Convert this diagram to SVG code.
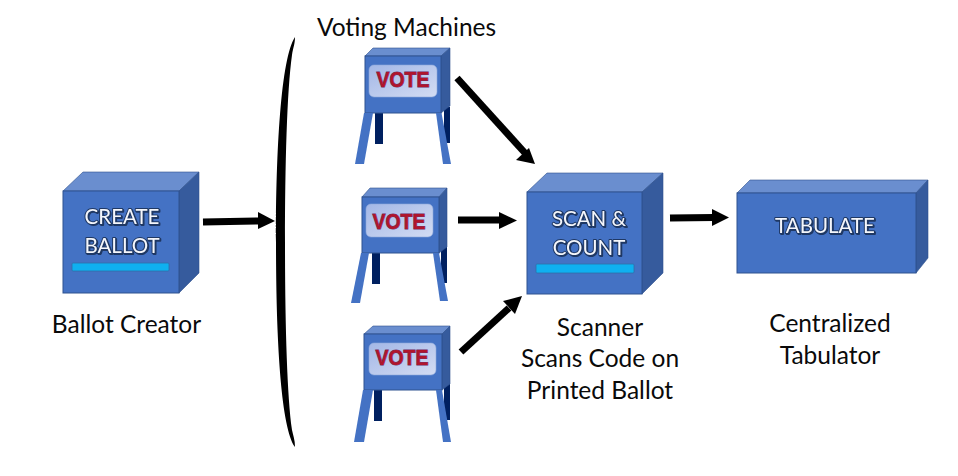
<svg xmlns="http://www.w3.org/2000/svg" width="958" height="476" viewBox="0 0 958 476">
<style>
.front{fill:#4472c4;stroke:#2f528f;stroke-width:1}
.top{fill:#6a8ecf;stroke:#2f528f;stroke-width:.6}
.side{fill:#365b9d;stroke:#2f528f;stroke-width:.6}
.bar{fill:#0fb0f0;stroke:#2f6fa8;stroke-width:.8}
.panel{fill:url(#pg);stroke:#8faadc;stroke-width:.6}
.leg{fill:#4472c4}
.back{fill:#002060}
.lbl{font-family:"Lato","Open Sans",sans-serif;font-size:24.5px;fill:#0a0a0a;text-anchor:middle}
.box{font-family:"Lato","Open Sans",sans-serif;font-size:20.5px;fill:#f4f6fb;stroke:#1f3864;stroke-width:2px;paint-order:stroke;stroke-linejoin:round;text-anchor:middle;filter:drop-shadow(1px 1px 0 #1f3864)}
.vote{font-family:"Liberation Sans",sans-serif;font-weight:bold;font-size:21.500px;fill:#b0152c;stroke:#6f2f68;stroke-width:1px;paint-order:stroke;text-anchor:middle}
.shaft{fill:none;stroke:#000;stroke-width:7}
.head{fill:#000}
</style>
<defs>
<linearGradient id="pg" x1="0" y1="0" x2="1" y2="1"><stop offset="0" stop-color="#a3b7e6"/><stop offset="1" stop-color="#d3dcf3"/></linearGradient>
</defs>

<g id="connectors">
<path d="M295,37C281,58 276,150 276,242C276,340 281,427 295,447C295,440 293,435 292,430C287,395 285,320 285,242C285,165 287,90 292,55C293,48 295,44 295,37Z" fill="#000"/>
<path class="shaft" d="M203,222L260,221"/><path class="head" d="M258,212L275,221L258,229Z"/>
<path class="shaft" d="M457,78L525,153"/><path class="head" d="M516,160L529,148L535,164Z"/>
<path class="shaft" d="M458,220L501,220"/><path class="head" d="M499,212L517,220.500L499,229Z"/>
<path class="shaft" d="M461,352L509,308"/><path class="head" d="M503,301L515,314L522,296Z"/>
<path class="shaft" d="M670,218L714,217.500"/><path class="head" d="M712,209L729,217.500L712,226Z"/>
</g>

<g id="create-ballot">
<path class="top" d="M63,191L83,172H199L179,191Z"/>
<path class="side" d="M179,191L199,172V273L179,293Z"/>
<rect class="front" x="63" y="191" width="116" height="102"/>
<rect class="bar" x="72" y="263" width="97" height="8" rx="1"/>
<text class="box" x="122" y="224">CREATE</text>
<text class="box" x="122" y="253">BALLOT</text>
</g>
<text class="lbl" x="126.500" y="333">Ballot Creator</text>

<text class="lbl" x="406.500" y="36">Voting Machines</text>

<g id="vote-1">
<path class="back" d="M375,113H383V144H375Z"/><path class="back" d="M444,107H450V143H444Z"/>
<path class="top" d="M365,56L373,48H450L441,56Z"/>
<path class="side" d="M441,56L450,48V106L441,113Z"/>
<rect class="front" x="365" y="56" width="76" height="57"/>
<path class="leg" d="M364,113H373L364,164H355Z"/><path class="leg" d="M436,113H441.500L451,164H443Z"/>
<rect class="panel" x="369" y="65" width="68" height="32" rx="5"/>
<text class="vote" x="403" y="87" textLength="53" lengthAdjust="spacingAndGlyphs">VOTE</text>
</g>

<g id="vote-2">
<path class="back" d="M372,253H380V284H372Z"/><path class="back" d="M441,247H447V283H441Z"/>
<path class="top" d="M362,197L370,188H447L439,197Z"/>
<path class="side" d="M439,197L447,188V247L439,253Z"/>
<rect class="front" x="362" y="197" width="77" height="56"/>
<path class="leg" d="M361,253H369L360,303H351Z"/><path class="leg" d="M433,253H439L448,301H440Z"/>
<rect class="panel" x="366" y="204" width="67" height="33" rx="5"/>
<text class="vote" x="399" y="229" textLength="53" lengthAdjust="spacingAndGlyphs">VOTE</text>
</g>

<g id="vote-3">
<path class="back" d="M374,390H382V421H374Z"/><path class="back" d="M444,384H450V420H444Z"/>
<path class="top" d="M364,334L373,326H450L442,334Z"/>
<path class="side" d="M442,334L450,326V384L442,390Z"/>
<rect class="front" x="364" y="334" width="78" height="56"/>
<path class="leg" d="M363,390H373L364,442H354Z"/><path class="leg" d="M436,390H442L451,442H443Z"/>
<rect class="panel" x="369" y="343" width="67" height="32" rx="5"/>
<text class="vote" x="402" y="365" textLength="53" lengthAdjust="spacingAndGlyphs">VOTE</text>
</g>

<g id="scan-count">
<path class="top" d="M527,192L547,173H663L642,192Z"/>
<path class="side" d="M642,192L663,173V273L642,294Z"/>
<rect class="front" x="527" y="192" width="115" height="102"/>
<rect class="bar" x="536" y="264" width="98" height="9" rx="1"/>
<text class="box" x="589" y="226">SCAN &amp;</text>
<text class="box" x="589" y="255">COUNT</text>
</g>
<text class="lbl" x="600" y="336">Scanner</text>
<text class="lbl" x="600" y="367">Scans Code on</text>
<text class="lbl" x="600" y="399">Printed Ballot</text>

<g id="tabulate">
<path class="top" d="M737,193L750,180H928L916,193Z"/>
<path class="side" d="M916,193L928,180V258L916,273Z"/>
<rect class="front" x="737" y="193" width="179" height="80"/>
<text class="box" x="825" y="233">TABULATE</text>
</g>
<text class="lbl" x="830" y="332">Centralized</text>
<text class="lbl" x="830" y="364">Tabulator</text>
</svg>
